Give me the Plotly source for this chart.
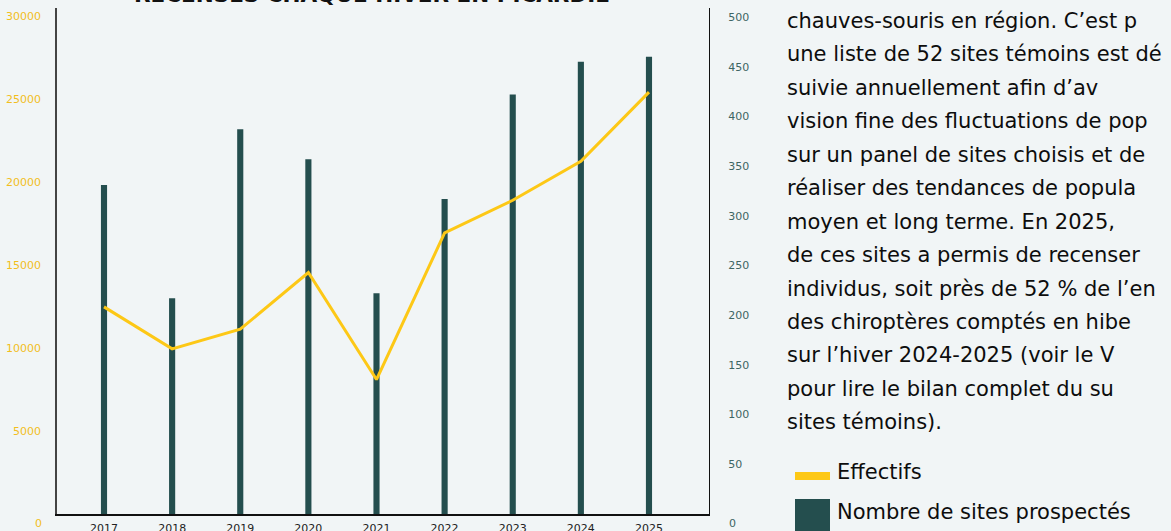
import plotly.graph_objects as go

years = [2017, 2018, 2019, 2020, 2021, 2022, 2023, 2024, 2025]
sites = [331, 217, 387, 357, 222, 317, 422, 455, 460]
effectifs = [12490, 9960, 11140, 14560, 8110, 16950, 18920, 21270, 25440]

left_ticks = [5000, 10000, 15000, 20000, 25000, 30000]
right_ticks = [50, 100, 150, 200, 250, 300, 350, 400, 450, 500]

title_text = "RECENSÉS CHAQUE HIVER EN PICARDIE"
paragraph = [
    "chauves-souris en région. C’est p",
    "une liste de 52 sites témoins est dé",
    "suivie annuellement afin d’av",
    "vision fine des fluctuations de pop",
    "sur un panel de sites choisis et de",
    "réaliser des tendances de popula",
    "moyen et long terme. En 2025,",
    "de ces sites a permis de recenser",
    "individus, soit près de 52 % de l’en",
    "des chiroptères comptés en hibe",
    "sur l’hiver 2024-2025 (voir le V",
    "pour lire le bilan complet du su",
    "sites témoins).",
]
legend_labels = ["Effectifs", "Nombre de sites prospectés"]

BG = "#F1F5F6"
BAR = "#244E4E"
LINE = "#FDC816"
YEL_TXT = "#F2BE1D"
TEAL_TXT = "#3E6563"
FONT = "DejaVu Sans, sans-serif"

W, H = 1171, 531
ML, MR, MT, MB = 57, 462, 8, 17
PW, PH = W - ML - MR, H - MT - MB

def px_x(px):
    return (px - ML) / PW

def px_y(py):
    return (H - MB - py) / PH

fig = go.Figure()
fig.add_trace(go.Bar(x=years, y=sites, yaxis="y", marker=dict(color=BAR, line=dict(width=0)),
                     width=0.09, name=legend_labels[1], showlegend=False))
fig.add_trace(go.Scatter(x=years, y=effectifs, yaxis="y2", mode="lines",
                         line=dict(color=LINE, width=3), name=legend_labels[0], showlegend=False))

fig.update_layout(
    width=W, height=H,
    margin=dict(l=ML, r=MR, t=MT, b=MB, pad=0),
    paper_bgcolor=BG, plot_bgcolor=BG,
    xaxis=dict(range=[2016.31, 2025.881], tickvals=years, ticktext=[str(y) for y in years],
               showgrid=False, zeroline=False, showline=True, linecolor="#111", linewidth=1.5,
               ticks="", tickfont=dict(family=FONT, size=11, color="#222"), ticklabelstandoff=3,
               automargin=False),
    yaxis=dict(side="right", range=[0, 509.1], tickvals=right_ticks, ticktext=[str(v) for v in right_ticks],
               showgrid=False, zeroline=False, showline=True, linecolor="#111", linewidth=1.2,
               ticks="", tickfont=dict(family=FONT, size=11, color=TEAL_TXT), ticklabelstandoff=16,
               automargin=False),
    yaxis2=dict(side="left", overlaying="y", range=[0, 30512], tickvals=left_ticks,
                ticktext=[str(v) for v in left_ticks],
                showgrid=False, zeroline=False, showline=True, linecolor="#444", linewidth=1.5,
                ticks="", tickfont=dict(family=FONT, size=11, color=YEL_TXT), ticklabelstandoff=12,
                automargin=False),
    showlegend=False,
)

ann = []
ann.append(dict(text="0", xref="paper", yref="paper", x=px_x(44), y=px_y(523), xanchor="right",
                yanchor="middle", showarrow=False, font=dict(family=FONT, size=11, color=YEL_TXT)))
ann.append(dict(text="0", xref="paper", yref="paper", x=px_x(727), y=px_y(523), xanchor="left",
                yanchor="middle", showarrow=False, font=dict(family=FONT, size=11, color=TEAL_TXT)))
ann.append(dict(text="<b>" + title_text + "</b>", xref="paper", yref="paper", x=px_x(372), y=px_y(9),
                xanchor="center", yanchor="bottom", showarrow=False,
                font=dict(family=FONT, size=21.5, color="#111")))
for i, line in enumerate(paragraph):
    ann.append(dict(text=line, xref="paper", yref="paper", x=px_x(785), y=px_y(21 + 33.45 * i),
                    xanchor="left", yanchor="middle", showarrow=False,
                    font=dict(family=FONT, size=21, color="#0d0d0d")))
ann.append(dict(text=legend_labels[0], xref="paper", yref="paper", x=px_x(835), y=px_y(472),
                xanchor="left", yanchor="middle", showarrow=False,
                font=dict(family=FONT, size=21, color="#0d0d0d")))
ann.append(dict(text=legend_labels[1], xref="paper", yref="paper", x=px_x(835), y=px_y(512),
                xanchor="left", yanchor="middle", showarrow=False,
                font=dict(family=FONT, size=21, color="#0d0d0d")))
fig.update_layout(annotations=ann)

fig.update_layout(shapes=[
    dict(type="rect", xref="paper", yref="paper", x0=px_x(795), x1=px_x(830), y0=px_y(480), y1=px_y(472),
         fillcolor=LINE, line=dict(width=0)),
    dict(type="rect", xref="paper", yref="paper", x0=px_x(795), x1=px_x(830), y0=px_y(535), y1=px_y(499),
         fillcolor=BAR, line=dict(width=0)),
])

fig.write_html("out.html", config={"displayModeBar": False},
               post_script="document.body.style.margin='0';document.body.style.overflow='hidden';")
